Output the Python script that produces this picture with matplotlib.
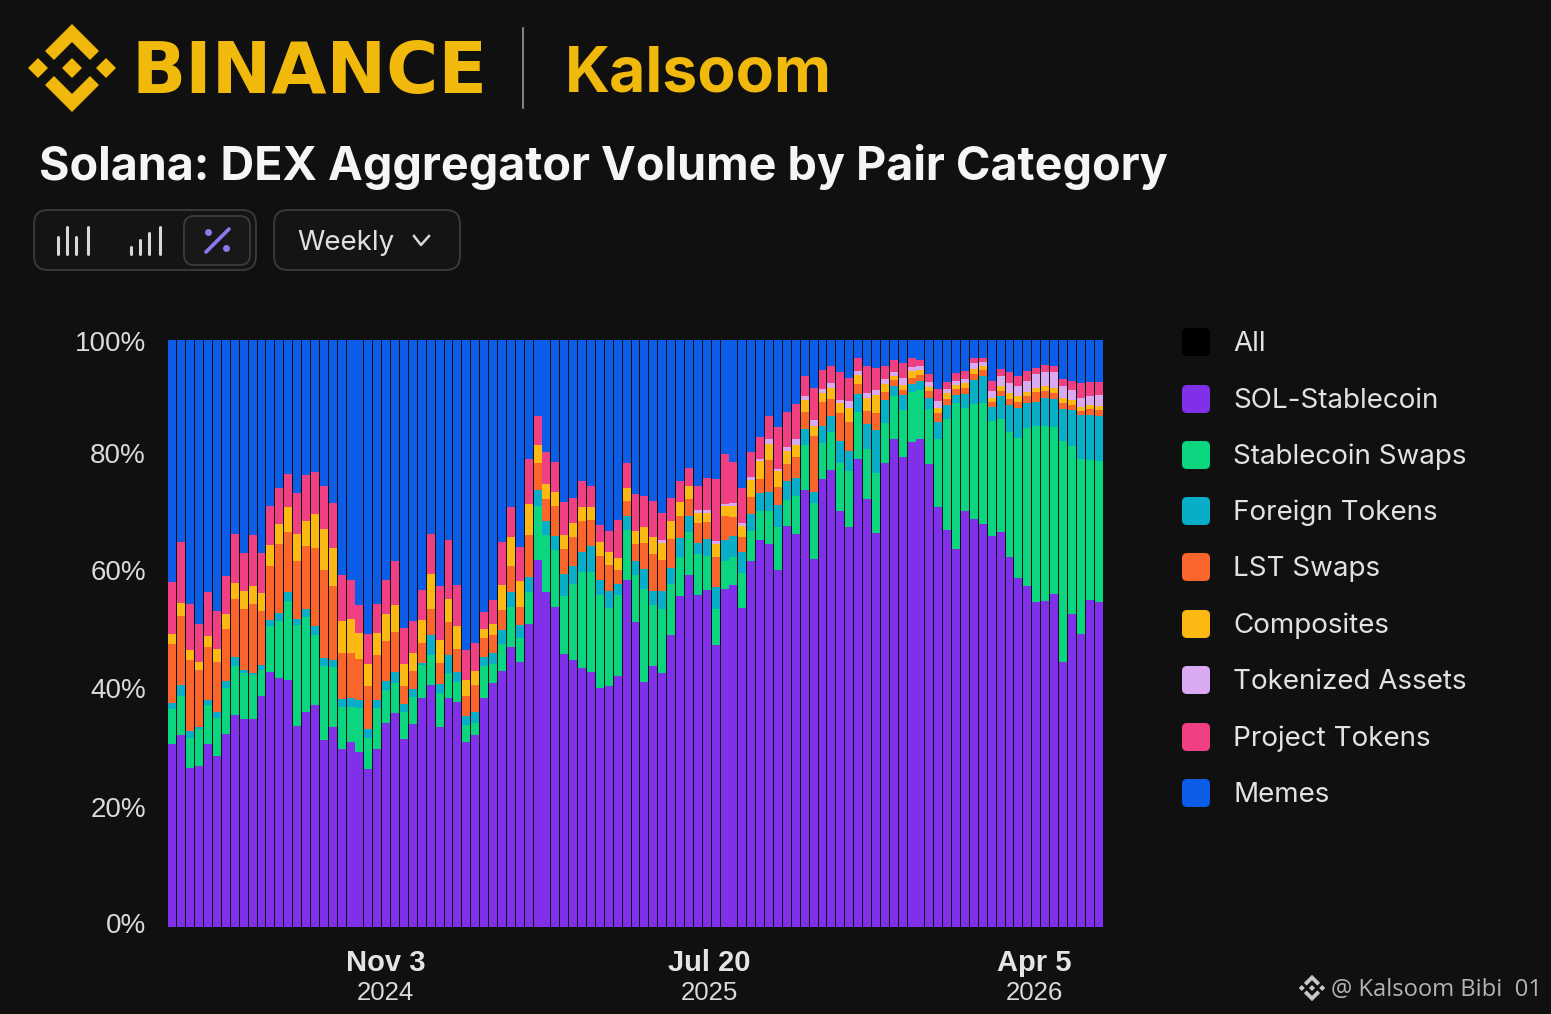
import matplotlib
matplotlib.use("Agg")
import matplotlib.pyplot as plt
import matplotlib.transforms as mtrans
from matplotlib.patches import FancyBboxPatch, Polygon
import numpy as np

W, H = 1551, 1014
BG = "#101010"
YELLOW = "#F0B90B"

sol_stable = [31.1,32.8,27.1,27.4,31.2,29.1,32.9,36.0,35.4,35.4,39.4,43.5,42.4,42.1,34.2,36.7,37.8,31.9,34.0,30.3,31.4,29.9,26.9,30.4,34.8,36.4,32.0,34.5,39.1,41.2,34.0,39.0,38.4,31.4,32.7,
39.0,41.5,43.6,47.8,45.2,51.6,62.4,57.1,54.5,46.6,45.5,44.2,43.5,40.8,41.1,42.8,59.1,51.9,41.8,44.5,43.2,49.7,56.3,60.1,56.7,57.4,48.0,57.5,58.3,54.3,62.4,65.9,65.3,60.8,68.4,
67.0,74.5,62.6,76.2,77.9,70.9,68.0,79.7,72.9,67.2,79.1,83.1,80.2,82.5,83.1,78.8,71.4,67.6,64.5,70.9,69.5,68.7,66.6,67.3,63.1,59.4,58.1,55.4,55.4,56.8,45.2,53.4,49.9,55.6,55.4]
stable_swaps = [6.0,6.6,5.0,6.3,6.6,6.5,7.9,8.5,7.8,7.5,4.4,7.8,9.8,13.5,17.2,16.2,11.9,12.5,10.3,7.2,6.1,7.4,5.3,6.9,5.5,5.1,4.6,4.6,5.6,5.1,5.8,4.3,3.4,3.0,2.1,
5.5,3.2,4.7,6.8,4.0,5.5,9.2,9.7,9.8,9.9,12.9,16.2,17.0,15.8,13.3,13.7,8.6,8.0,15.7,10.4,10.9,8.7,6.7,7.4,7.0,5.8,6.2,4.9,4.8,6.0,5.1,5.0,5.7,7.3,4.4,
6.5,7.7,9.5,6.2,6.5,8.3,9.5,8.0,8.5,10.1,6.7,7.3,8.0,8.4,8.3,9.4,11.6,19.0,24.9,17.5,19.7,20.6,19.6,19.1,21.3,23.9,26.9,30.0,29.8,28.3,37.6,28.5,29.7,23.9,24.0]
foreign = [1.1,1.8,1.2,0.3,0.9,1.0,1.1,1.4,0.6,0.3,0.9,1.0,1.4,1.6,1.1,1.4,1.5,1.4,1.2,1.3,1.5,1.4,1.6,1.3,1.5,1.9,1.4,1.5,0.3,3.4,1.6,3.1,1.7,1.5,1.8,
1.5,1.9,2.4,2.6,2.2,2.6,2.7,2.3,2.3,3.7,3.1,3.5,4.4,2.6,2.9,2.0,2.3,2.4,3.5,2.4,3.1,2.8,3.2,2.6,1.9,2.9,3.7,3.5,3.5,3.5,2.8,3.1,3.2,3.8,3.3,
3.0,2.7,1.8,2.8,2.7,3.7,3.4,3.1,4.3,7.4,4.0,1.8,2.6,1.5,1.6,1.9,3.0,2.4,1.4,2.4,4.0,4.5,2.4,3.9,4.5,5.1,4.3,4.1,4.8,4.8,5.5,6.1,7.5,7.6,7.6]
lst_swaps = [10.0,11.9,12.1,9.7,9.1,8.5,8.8,9.9,10.3,11.9,9.2,9.2,11.7,10.1,9.8,10.7,13.2,14.9,12.6,7.9,7.7,7.0,7.3,7.7,6.9,6.9,3.1,3.0,3.4,4.5,3.6,5.6,3.9,3.4,4.7,
3.2,3.1,3.4,4.3,3.1,7.1,4.7,3.8,5.1,4.3,4.9,5.3,4.4,4.1,4.4,2.4,2.6,3.0,4.4,6.2,5.3,4.9,3.7,3.0,3.4,3.0,5.1,4.1,3.3,2.7,3.0,2.3,5.4,3.0,2.8,
3.7,3.0,9.5,4.1,2.8,4.7,4.9,1.7,2.2,2.8,1.3,1.0,0.8,1.0,1.0,1.2,1.5,1.0,1.0,1.0,1.1,1.1,0.9,1.0,1.0,1.1,1.2,1.6,1.2,1.1,1.0,0.9,0.7,1.1,1.0]
composites = [1.7,2.1,1.8,1.5,1.9,2.3,2.6,2.7,3.1,3.0,3.0,3.6,3.5,4.4,4.5,4.3,5.8,7.0,6.4,5.4,5.7,4.5,3.7,3.8,4.5,4.5,3.7,3.0,4.0,5.8,3.9,3.9,3.8,2.8,2.3,
1.5,1.8,4.3,5.0,4.4,5.4,3.1,2.6,2.4,2.3,2.5,2.4,2.3,2.3,2.1,1.9,2.2,2.2,2.7,2.9,2.8,3.0,2.4,2.2,1.7,1.5,2.3,1.7,1.8,1.8,2.8,3.1,2.7,2.8,2.2,
2.0,1.9,1.7,1.5,2.0,1.7,2.4,1.5,2.2,3.1,1.4,0.7,0.9,1.1,0.9,0.7,0.9,0.9,0.6,0.9,0.9,0.7,0.7,0.7,1.1,0.9,0.6,0.8,0.9,0.9,0.9,0.9,0.7,0.7,0.7]
tokenized = [0]*55 + [0.6,0,0,0,0.5,0.5,0.5,0.3,0.5,0.6,0.5,0.4,0.9,0.4,0.7,
1.0,0.8,1.1,0.7,0.7,0.6,1.2,0.7,0.9,0.9,0.8,0.7,1.1,0.7,0.7,0.9,1.2,0.7,0.7,0.7,0.9,0.6,1.1,1.7,1.7,1.7,2.0,2.3,2.4,2.7,2.0,1.7,1.6,1.5,1.9]
project = [8.9,10.4,7.8,6.5,7.4,6.4,6.5,8.3,6.5,8.6,6.8,6.7,6.0,5.6,7.1,7.7,7.1,7.4,7.8,7.8,6.6,4.7,5.2,5.0,5.8,7.5,6.2,5.6,5.1,6.8,9.2,10.1,7.1,5.1,4.9,
3.0,4.1,7.2,5.2,5.8,7.6,4.9,5.5,5.1,5.6,4.1,4.4,3.6,3.0,3.7,6.5,4.3,6.2,5.3,6.2,4.5,4.0,3.6,3.0,4.0,5.5,10.6,8.5,7.0,5.9,4.4,3.7,4.0,7.0,6.1,
6.0,3.3,5.4,3.3,3.0,4.7,4.0,2.3,4.5,3.8,2.3,2.0,2.6,1.5,1.0,1.3,2.0,1.2,1.3,1.4,1.0,0.7,1.7,1.2,1.8,1.7,1.7,1.1,1.1,1.0,1.3,1.6,2.4,2.3,2.3]
memes = [41.2,34.5,44.9,48.3,43.0,46.2,40.2,33.1,36.2,33.3,36.4,28.2,25.3,22.8,26.0,23.1,22.5,24.8,27.7,40.0,40.9,45.2,50.0,44.9,40.9,37.7,49.0,47.8,42.6,33.1,41.9,34.1,41.7,52.7,51.6,
46.3,44.3,34.5,28.4,35.3,20.3,12.9,19.0,20.8,27.7,27.0,24.0,24.8,31.5,32.5,30.7,20.9,26.3,26.6,27.4,29.5,26.9,24.0,21.9,25.0,23.5,23.6,19.5,20.8,25.2,19.0,16.5,12.9,14.9,12.2,
10.9,6.2,8.2,5.1,4.4,5.5,6.4,3.0,4.5,4.7,4.4,3.4,3.9,3.1,3.4,5.8,8.3,7.2,5.7,5.2,3.0,3.1,7.0,5.0,5.5,6.2,5.2,4.7,4.3,4.4,6.6,6.9,7.4,7.2,7.1]

stack_series = [sol_stable, stable_swaps, foreign, lst_swaps, composites, tokenized, project, memes]
legend_names = ["All", "SOL-Stablecoin", "Stablecoin Swaps", "Foreign Tokens", "LST Swaps",
                "Composites", "Tokenized Assets", "Project Tokens", "Memes"]
legend_colors = ["#000000", "#7F30E8", "#0BD57F", "#08AEC8", "#F9652A", "#FDB913", "#D9A9F2", "#F13F84", "#0B5CE6"]
y_ticks = [0, 20, 40, 60, 80, 100]
y_labels = ["0%", "20%", "40%", "60%", "80%", "100%"]
y_label_shift = [4, 3, 4, 5, 4, -1]
x_ticks = [23.9, 60.25, 96.75]
x_labels = ["Nov 3", "Jul 20", "Apr 5"]
x_years = ["2024", "2025", "2026"]

fig = plt.figure(figsize=(W / 100, H / 100), dpi=100, facecolor=BG)
ax = fig.add_axes([168 / W, 1 - 927 / H, 935 / W, 587 / H], facecolor=BG)

x = np.arange(len(sol_stable))
totals = np.sum(np.array(stack_series, dtype=float), axis=0)
bottom = np.zeros(len(x))
for values, color, name in zip(stack_series, legend_colors[1:], legend_names[1:]):
    v = np.array(values, dtype=float) / totals * 100  # 100 % stacked
    ax.bar(x, v, bottom=bottom, width=0.89, color=color, linewidth=0, label=name)
    bottom += v

ax.set_xlim(-0.5, len(x) - 0.5)
ax.set_ylim(0, 100)
for s in ax.spines.values():
    s.set_visible(False)
ax.set_yticks(y_ticks, y_labels, fontsize=20, color="#DADADA", family="Liberation Sans")
ax.tick_params(axis="both", length=0)
ax.tick_params(axis="y", pad=16)
for lab, dy in zip(ax.get_yticklabels(), y_label_shift):
    lab.set_transform(lab.get_transform() + mtrans.ScaledTranslation(0, dy / 100, fig.dpi_scale_trans))
ax.set_xticks(x_ticks, x_labels, fontsize=21, fontweight="bold", color="#E4E4E4", family="Liberation Sans")
ax.tick_params(axis="x", pad=15.5)
tr = ax.get_xaxis_transform()
for xt, yr in zip(x_ticks, x_years):
    ax.annotate(yr, (xt, 0), xycoords=tr, xytext=(0, -66 * 0.72), textcoords="offset points",
                ha="center", va="center", fontsize=18.6, color="#DADADA", family="Liberation Sans")

# overlay in pixel coordinates for the page furniture
ov = fig.add_axes([0, 0, 1, 1], facecolor="none")
ov.set_xlim(0, W)
ov.set_ylim(H, 0)
ov.axis("off")

def rrect(x0, y0, x1, y1, r, fc="none", ec="none", lw=1.0):
    ov.add_patch(FancyBboxPatch((x0 + r, y0 + r), x1 - x0 - 2 * r, y1 - y0 - 2 * r,
                                boxstyle=f"round,pad={r},rounding_size={r}", fc=fc, ec=ec, lw=lw))

def logo(cx, cy, s, color):
    shapes = [[(0, -44), (27, -17), (18, -8), (0, -26), (-18, -8), (-27, -17)],
              [(0, 44), (27, 17), (18, 8), (0, 26), (-18, 8), (-27, 17)],
              [(0, -10), (10, 0), (0, 10), (-10, 0)],
              [(-34, -10), (-24, 0), (-34, 10), (-44, 0)],
              [(34, -10), (44, 0), (34, 10), (24, 0)]]
    for pts in shapes:
        ov.add_patch(Polygon([(cx + s * a, cy + s * b) for a, b in pts], closed=True, fc=color, ec="none"))

logo(72, 68, 1.0, YELLOW)
ov.text(131, 93, "BINANCE", fontsize=51.3, fontweight="bold", color=YELLOW, family="DejaVu Sans", va="baseline", ha="left")
ov.plot([523, 523], [28, 108], color="#9a9a9a", lw=1.2)
ov.text(565, 91, "Kalsoom", fontsize=45, fontweight="bold", color=YELLOW, family="Inter", va="baseline", ha="left")
ov.text(39, 180, "Solana: DEX Aggregator Volume by Pair Category", fontsize=33.6, fontweight="bold",
        color="#F5F5F5", family="Inter", va="baseline", ha="left")

# chart-type buttons
rrect(34, 210, 256, 270, 14, fc="#141414", ec="#3c3c3c", lw=1.3)
rrect(184, 216, 250, 265, 10, fc="#181818", ec="#3c3c3c", lw=1.3)
rrect(274, 210, 460, 270, 14, fc="#141414", ec="#3c3c3c", lw=1.3)
for bx, top in zip([58, 67, 76, 88], [237, 227, 237, 227]):
    ov.plot([bx, bx], [254, top], color="#D8D8D8", lw=2.2, solid_capstyle="round")
for bx, top in zip([131, 140, 149, 160], [247, 240, 233, 227]):
    ov.plot([bx, bx], [254, top], color="#D8D8D8", lw=2.2, solid_capstyle="round")
ov.plot([206, 229], [252, 229], color="#8A7CF0", lw=2.6, solid_capstyle="round")
ov.plot([208, 226], [232, 248], ls="none", marker="o", ms=5, color="#8A7CF0", mec="none")
ov.text(297, 243, "Weekly", fontsize=20, color="#E0E0E0", family="Inter", va="center", ha="left")
ov.plot([414, 421, 429], [236, 245, 236], color="#D8D8D8", lw=1.8)

# legend
legend_y = [342, 399, 455, 511, 567, 624, 680, 737, 793]
for name, color, yy in zip(legend_names, legend_colors, legend_y):
    rrect(1182, yy - 14, 1210, yy + 14, 5, fc=color)
    ov.text(1233, yy + 2, name, fontsize=20, color="#E2E2E2", family="Inter", va="center", ha="left")

# watermark
logo(1312, 988, 0.30, "#C8C8C8")
ov.text(1331, 990, "@ Kalsoom Bibi  01", fontsize=17.1, color="#B4B4B4", family="Open Sans", va="center", ha="left")

fig.savefig("out.png", dpi=100, facecolor=BG)
